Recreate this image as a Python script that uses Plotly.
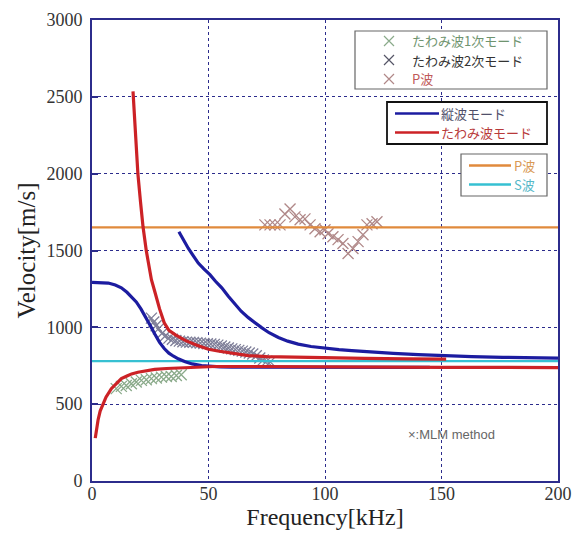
import plotly.graph_objects as go

# ---- data ----
long1_x = [0, 4, 7, 10, 12.6, 15, 17, 19, 21, 23, 25, 27, 29, 31, 33, 35, 37, 40, 43, 47, 50, 55, 60, 80, 100, 145]
long1_y = [1293, 1291, 1288, 1275, 1257, 1228, 1200, 1165, 1120, 1070, 1012, 955, 902, 862, 832, 812, 795, 776, 762, 751, 746, 743, 741, 740, 740, 740]

long2_x = [37.3, 39, 41.3, 43.5, 45.6, 48, 50.6, 53, 55.7, 58.5, 61.4, 64, 67.1, 70, 72.8, 76, 80, 84, 88.5, 94, 100, 106, 111.5, 117, 123, 129.3, 140, 150.8, 163, 176.4, 188, 200]
long2_y = [1622, 1575, 1515, 1465, 1418, 1380, 1343, 1300, 1257, 1202, 1149, 1105, 1063, 1028, 998, 965, 934, 910, 891, 875, 863, 855, 848, 842, 837, 831, 823, 816, 810, 805, 802, 799]

flex_up_x = [17.6, 18.3, 19.0, 19.7, 20.8, 21.9, 23.3, 24.5, 25.5, 27, 29, 31, 33, 36, 40, 45, 50, 54, 60, 67, 75, 88, 100, 117, 135, 152]
flex_up_y = [2536, 2350, 2159, 1998, 1820, 1654, 1498, 1390, 1310, 1230, 1120, 1030, 980, 950, 915, 884, 857, 846, 830, 816, 810, 805, 800, 798, 795, 793]

flex_lo_x = [1.4, 2, 2.6, 3.5, 4.7, 6, 8.3, 10.4, 12.6, 15, 17, 19.7, 23, 26.9, 32, 38.3, 45, 52.7, 70, 100, 150, 200]
flex_lo_y = [279, 340, 397, 455, 504, 545, 601, 635, 666, 683, 697, 708, 718, 726, 732, 737, 741, 745, 745, 742, 740, 738]

p_wave_x = [0, 200]
p_wave_y = [1650, 1650]
s_wave_x = [0, 200]
s_wave_y = [780, 780]

m1_x = [10.4, 12.6, 14.7, 16.9, 19.0, 21.2, 23.3, 25.5, 27.6, 29.8, 31.9, 34.0, 36.2, 38.3]
m1_y = [601, 616, 622, 633, 644, 655, 659, 666, 670, 676, 680, 680, 687, 691]

m2_x = [25.5, 26.5, 27.5, 28.5, 30, 31.5, 33, 34.5, 36, 37.5, 39, 40.5, 42, 43.5, 45, 46.5, 48, 49.5, 51, 52.5,
        54, 55.5, 57, 58.5, 60, 61.5, 63, 64.5, 66, 67.5, 69, 70.5, 72, 73.5, 75, 76.5]
m2_y = [1060, 1035, 1010, 990, 960, 945, 930, 922, 914, 910, 906, 904, 903, 902, 900, 897, 895, 893, 891, 889,
        884, 878, 872, 866, 860, 855, 850, 845, 839, 833, 827, 815, 800, 788, 780, 775]

mp_x = [74.2, 76.4, 78.5, 80.7, 82.8, 85.0, 87.1, 89.3, 91.4, 93.6, 95.7, 97.9, 100.0, 101.3, 103.4, 105.6,
        107.7, 109.9, 112.0, 114.2, 116.3, 118.0, 120.2, 122.3]
mp_y = [1667, 1667, 1667, 1667, 1738, 1770, 1719, 1700, 1706, 1667, 1642, 1622, 1635, 1609, 1590, 1571,
        1545, 1480, 1513, 1558, 1603, 1667, 1674, 1687]

x_ticks = [0, 50, 100, 150, 200]
y_ticks = [0, 500, 1000, 1500, 2000, 2500, 3000]

marker_labels = ["たわみ波1次モード", "たわみ波2次モード", "P波"]
mode_labels = ["縦波モード", "たわみ波モード"]
wave_labels = ["P波", "S波"]

# ---- styles ----
NAVY = "#2c2c8c"
BLUE = "#1c1ca0"
RED = "#cc2226"
ORANGE = "#e08a3c"
CYAN = "#36c0d2"
JP = "Noto Sans CJK JP"
SERIF = "Liberation Serif"

M_COLORS = ["#8aaa8a", "#7e7e98", "#b08888"]
M_TEXT = ["#6f946f", "#333333", "#c05a5a"]

fig = go.Figure()

mk = dict(symbol="x-thin-open", size=11, line=dict(width=1.3))
for xs, ys, c in [(m1_x, m1_y, M_COLORS[0]), (m2_x, m2_y, M_COLORS[1]), (mp_x, mp_y, M_COLORS[2])]:
    fig.add_trace(go.Scatter(x=xs, y=ys, mode="markers", showlegend=False,
                             marker=dict(**mk, color=c)))

fig.add_trace(go.Scatter(x=p_wave_x, y=p_wave_y, mode="lines", showlegend=False,
                         line=dict(color=ORANGE, width=2.2)))
fig.add_trace(go.Scatter(x=s_wave_x, y=s_wave_y, mode="lines", showlegend=False,
                         line=dict(color=CYAN, width=2.2)))
for xs, ys, c in [(long1_x, long1_y, BLUE), (long2_x, long2_y, BLUE),
                  (flex_up_x, flex_up_y, RED), (flex_lo_x, flex_lo_y, RED)]:
    fig.add_trace(go.Scatter(x=xs, y=ys, mode="lines", showlegend=False,
                             line=dict(color=c, width=3.2)))

# ---- hand-built legend boxes (paper coordinates of the plot area) ----
X0, X1, Y0, Y1 = 92.0, 558.0, 20.0, 481.0   # plot area in window pixels


def px(v):
    return (v - X0) / (X1 - X0)


def py(v):
    return (Y1 - v) / (Y1 - Y0)


shapes = []
annots = []


def box(l, t, r, b, color, width):
    shapes.append(dict(type="rect", xref="paper", yref="paper", x0=px(l), x1=px(r), y0=py(b), y1=py(t),
                       line=dict(color=color, width=width), fillcolor="white", layer="above"))


def text(x, y, s, color, size=13):
    annots.append(dict(x=px(x), y=py(y), xref="paper", yref="paper", text=s, showarrow=False,
                       xanchor="left", yanchor="middle", borderpad=0,
                       font=dict(family=JP, size=size, color=color)))


def seg(x0, x1, y, color, width=2.5):
    shapes.append(dict(type="line", xref="paper", yref="paper", x0=px(x0), x1=px(x1), y0=py(y), y1=py(y),
                       line=dict(color=color, width=width), layer="above"))


def cross(cx, cy, color, h=5):
    path = (f"M {px(cx - h)} {py(cy - h)} L {px(cx + h)} {py(cy + h)} "
            f"M {px(cx - h)} {py(cy + h)} L {px(cx + h)} {py(cy - h)}")
    shapes.append(dict(type="path", xref="paper", yref="paper", path=path,
                       line=dict(color=color, width=1.2), layer="above"))


box(355, 31, 547, 89, "#666666", 1.2)
for i, (lab, yy) in enumerate(zip(marker_labels, [41, 60, 79])):
    cross(389, yy, M_COLORS[i] if i != 1 else "#555566")
    text(411, yy, lab, M_TEXT[i])

box(387, 102, 547, 144, "#111111", 1.8)
for lab, yy, c, tc in zip(mode_labels, [113.5, 132.5], [BLUE, RED], ["#50506a", "#b83a3a"]):
    seg(395, 439, yy, c)
    text(440, yy, lab, tc)

box(461, 154, 547, 196, "#666666", 1.2)
for lab, yy, c, tc in zip(wave_labels, [165.5, 184.5], [ORANGE, CYAN], ["#d99a55", "#55b8c8"]):
    seg(469, 511, yy, c)
    text(513, yy, lab, tc)

annots.append(dict(x=154.5, y=303, xref="x", yref="y", text="×:MLM method", showarrow=False,
                   font=dict(family="Liberation Sans", size=13, color="#666")))

fig.update_layout(
    width=577, height=529,
    margin=dict(l=84, r=27, t=12, b=56, autoexpand=False),
    plot_bgcolor="white", paper_bgcolor="white",
    showlegend=False,
    shapes=shapes, annotations=annots,
    xaxis=dict(range=[0, 200], tickvals=x_ticks, showline=True, mirror=True, linecolor=NAVY,
               linewidth=2, showgrid=True, gridcolor=NAVY, griddash="dot", gridwidth=1,
               zeroline=False, ticks="", ticklabelstandoff=-5, automargin=False,
               ticklabeloverflow="allow",
               tickfont=dict(family=SERIF, size=18, color="#333"),
               title=dict(text="Frequency[kHz]", font=dict(family=SERIF, size=24, color="#222"),
                          standoff=6)),
    yaxis=dict(range=[0, 3000], tickvals=y_ticks, showline=True, mirror=True, linecolor=NAVY,
               linewidth=2, showgrid=True, gridcolor=NAVY, griddash="dot", gridwidth=1,
               zeroline=False, ticks="inside", ticklen=6, tickcolor=NAVY, tickwidth=1.5,
               ticklabelstandoff=4, automargin=False, ticklabeloverflow="allow",
               tickfont=dict(family=SERIF, size=18, color="#333"),
               title=dict(text="Velocity[m/s]", font=dict(family=SERIF, size=25, color="#222"),
                          standoff=4)),
)

fig.write_html("out.html")
